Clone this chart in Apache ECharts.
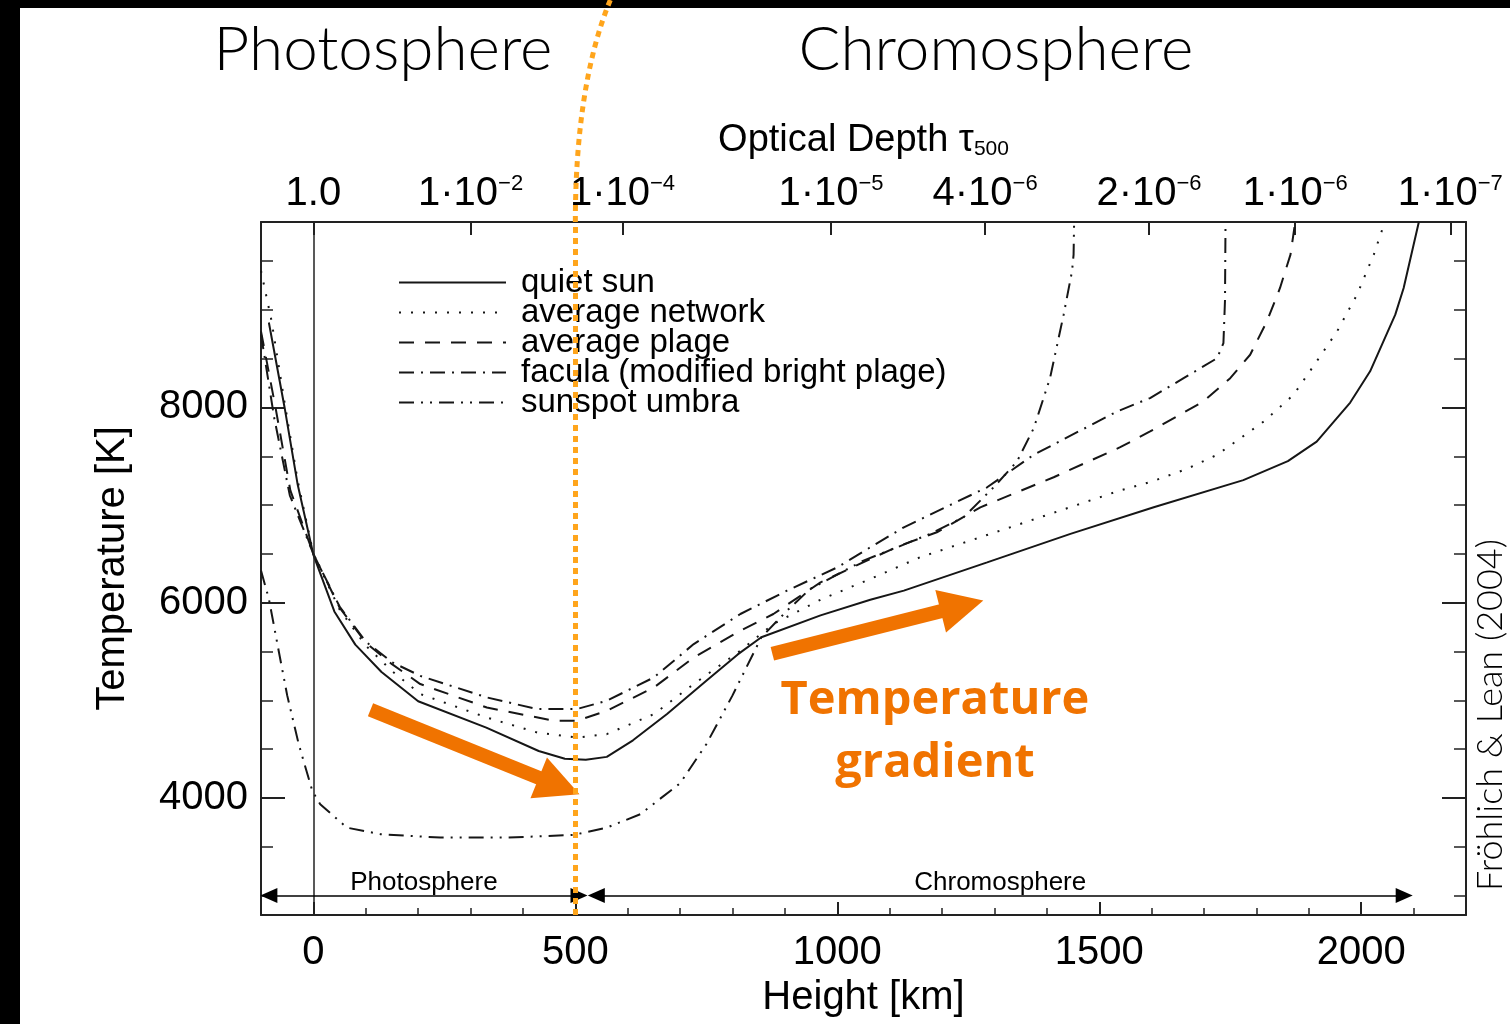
<!DOCTYPE html>
<html>
<head>
<meta charset="utf-8">
<title>Temperature vs height in the solar atmosphere</title>
<script src="https://cdn.jsdelivr.net/npm/echarts@6/dist/echarts.min.js"></script>
<style>
  html, body { margin: 0; padding: 0; background: #fff; }
  #chart { width: 1510px; height: 1024px; }
</style>
</head>
<body>
<div id="chart"></div>
<script>
// heights in km, temperatures in K
const quietH = [-85, -55, -30, 0, 40, 80, 130, 200, 330, 430, 480, 520, 560, 610, 675, 750, 810, 855, 968, 1063, 1127, 1286, 1445, 1604, 1775, 1860, 1915, 1979, 2017, 2065, 2081, 2110]
const quietT = [8870, 8000, 7210, 6490, 5910, 5570, 5290, 4990, 4720, 4480, 4400, 4390, 4420, 4590, 4860, 5200, 5470, 5645, 5870, 6030, 6123, 6413, 6705, 6977, 7255, 7450, 7650, 8050, 8370, 8951, 9224, 9900]

const networkH = [-100, -80, -55, -30, 0, 50, 100, 150, 204, 331, 427, 503, 560, 650, 726, 815, 878, 968, 1063, 1158, 1349, 1540, 1600, 1667, 1725, 1814, 1871, 1915, 1954, 1992, 2024, 2045]
const networkT = [9400, 8890, 8050, 7250, 6500, 5930, 5560, 5300, 5064, 4823, 4670, 4618, 4653, 4858, 5166, 5508, 5782, 6030, 6243, 6465, 6806, 7150, 7240, 7370, 7515, 7856, 8130, 8472, 8780, 9156, 9566, 9900]

const plageH = [-100, -72, -44, 0, 50, 100, 150, 204, 331, 459, 503, 560, 650, 726, 815, 878, 968, 1063, 1120, 1190, 1273, 1413, 1540, 1597, 1699, 1750, 1788, 1820, 1845, 1865, 1874]
const plageT = [8780, 7990, 7150, 6500, 5950, 5590, 5370, 5166, 4926, 4790, 4790, 4892, 5131, 5439, 5713, 5884, 6208, 6448, 6585, 6721, 6977, 7285, 7593, 7754, 8062, 8300, 8540, 8882, 9224, 9566, 9900]

const faculaH = [-100, -75, -45, 0, 50, 100, 150, 204, 331, 427, 503, 560, 650, 726, 815, 904, 1000, 1063, 1127, 1216, 1286, 1375, 1534, 1597, 1661, 1725, 1737, 1740, 1741]
const faculaT = [8750, 7900, 7100, 6500, 5960, 5600, 5390, 5250, 5029, 4910, 4910, 4995, 5234, 5576, 5884, 6123, 6362, 6567, 6772, 7002, 7182, 7515, 7959, 8096, 8300, 8505, 8660, 9100, 9900]

const umbraH = [-100, -85, -66, -50, -28, -2, 13, 64, 128, 242, 370, 497, 560, 624, 700, 750, 800, 855, 904, 948, 1050, 1114, 1177, 1241, 1298, 1343, 1375, 1406, 1432, 1448, 1451, 1452]
const umbraT = [6330, 6040, 5500, 5050, 4550, 4070, 3935, 3695, 3628, 3593, 3593, 3621, 3695, 3833, 4150, 4550, 5050, 5645, 5918, 6140, 6431, 6567, 6705, 6875, 7180, 7446, 7788, 8300, 8951, 9395, 9566, 9900]

// axis ticks
const heightMajor = [0, 500, 1000, 1500, 2000]
const heightMinor = [-100, 100, 200, 300, 400, 600, 700, 800, 900, 1100, 1200, 1300, 1400, 1600, 1700, 1800, 1900, 2100]
const tempMajor = [4000, 6000, 8000]
const tempMinor = [3000, 3500, 4500, 5000, 5500, 6500, 7000, 7500, 8500, 9000, 9500]
// optical depth tau_500 against height
const tauHeights = [0, 300, 590, 988, 1282, 1595, 1874, 2170]
const tauMantissa = ['1.0', '1', '1', '1', '4', '2', '1', '1']
const tauExponent = ['', '−2', '−4', '−5', '−6', '−6', '−6', '−7']

// height ranges of the two layers, drawn at T = 3000 K
const zoneNames = ['Photosphere', 'Chromosphere']
const zoneFrom = [-85, 540]
const zoneTo = [507, 2082]
const zoneTemp = 3000

// orange "temperature gradient" arrows: [start, end] in (km, K)
const gradientArrows = [
  [[109, 4903], [469, 4121]],
  [[876, 5477], [1238, 5967]]
]

const FONT = "'Liberation Sans', Arial, sans-serif"
const INK = '#161616'
const ORANGE = '#f07300'
const GOLD = '#ffa51c'

const curves = [
  { name: 'quiet sun', h: quietH, t: quietT, dash: 'solid' },
  { name: 'average network', h: networkH, t: networkT, dash: [2, 10] },
  { name: 'average plage', h: plageH, t: plageT, dash: [15, 11] },
  { name: 'facula (modified bright plage)', h: faculaH, t: faculaT, dash: [15, 7, 2, 7] },
  { name: 'sunspot umbra', h: umbraH, t: umbraT, dash: [15, 7, 2, 7, 2, 7] }
]

const chart = echarts.init(document.getElementById('chart'))

const range = { min: -100, max: 2200 }
const trange = { min: 2800, max: 9900 }
const frame = { color: '#222', width: 2 }
const plain = v => String(v)

const tauLabel = (v) => {
  const i = tauHeights.indexOf(v)
  if (i < 0) return ''
  return tauExponent[i] ? tauMantissa[i] + '·10{sup|' + tauExponent[i] + '}' : tauMantissa[i]
}

const lineSeries = curves.map(c => ({
  name: c.name,
  type: 'line',
  symbol: 'none',
  data: c.h.map((h, i) => [h, c.t[i]]),
  lineStyle: { color: INK, width: 2, type: c.dash },
  itemStyle: { color: INK },
  z: 3
}))

const minorAxis = (pos, ticks, len, extra) => ({
  type: 'value', position: pos, ...extra,
  axisLine: { show: false, onZero: false },
  axisTick: { inside: true, length: len, customValues: ticks, lineStyle: { color: '#222', width: 1.5 } },
  axisLabel: { show: false },
  splitLine: { show: false }
})

chart.setOption({
  animation: false,
  textStyle: { fontFamily: FONT },
  grid: { left: 261, top: 222, width: 1205, height: 693 },
  legend: {
    data: curves.map(c => c.name),
    orient: 'vertical',
    left: 393,
    top: 261,
    itemWidth: 107,
    itemHeight: 30,
    itemGap: -3,
    selectedMode: false,
    itemStyle: { opacity: 0, color: 'transparent', borderWidth: 0 },
    textStyle: { fontSize: 33, color: '#000', fontFamily: FONT, padding: [0, 0, 0, 10] }
  },
  xAxis: [
    {
      type: 'value', position: 'bottom', ...range,
      name: 'Height [km]', nameLocation: 'middle', nameGap: 62,
      nameTextStyle: { fontSize: 40, color: '#000', fontFamily: FONT },
      axisLine: { onZero: false, lineStyle: frame },
      axisTick: { inside: true, length: 13, customValues: heightMajor, lineStyle: frame },
      axisLabel: { customValues: heightMajor, formatter: plain, fontSize: 40, margin: 18, color: '#000', fontFamily: FONT },
      splitLine: { show: false }
    },
    minorAxis('bottom', heightMinor, 7, range),
    {
      type: 'value', position: 'top', ...range,
      name: 'Optical Depth τ{sub|500}', nameLocation: 'middle', nameGap: 62,
      nameTextStyle: { fontSize: 38, color: '#000', fontFamily: FONT, rich: { sub: { fontSize: 21, verticalAlign: 'bottom', fontFamily: FONT } } },
      axisLine: { onZero: false, lineStyle: frame },
      axisTick: { inside: true, length: 13, customValues: tauHeights, lineStyle: frame },
      axisLabel: {
        customValues: tauHeights, formatter: tauLabel, margin: 7,
        fontSize: 40, lineHeight: 42, color: '#000', fontFamily: FONT,
        rich: { sup: { fontSize: 22, lineHeight: 22, verticalAlign: 'top', color: '#000', fontFamily: FONT } }
      },
      splitLine: { show: false }
    }
  ],
  yAxis: [
    {
      type: 'value', position: 'left', ...trange,
      name: 'Temperature [K]', nameLocation: 'middle', nameGap: 128,
      nameTextStyle: { fontSize: 40, color: '#000', fontFamily: FONT },
      axisLine: { onZero: false, lineStyle: frame },
      axisTick: { inside: true, length: 24, customValues: tempMajor, lineStyle: frame },
      axisLabel: { customValues: tempMajor, formatter: plain, fontSize: 40, margin: 13, color: '#000', fontFamily: FONT },
      splitLine: { show: false }
    },
    minorAxis('left', tempMinor, 12, trange),
    {
      type: 'value', position: 'right', ...trange,
      axisLine: { onZero: false, lineStyle: frame },
      axisTick: { inside: true, length: 24, customValues: tempMajor, lineStyle: frame },
      axisLabel: { show: false },
      splitLine: { show: false }
    },
    minorAxis('right', tempMinor, 12, trange)
  ],
  series: [
    {
      name: 'tau=1', type: 'line', data: [], z: 2,
      markLine: {
        silent: true, symbol: 'none', label: { show: false },
        lineStyle: { color: '#222', width: 1.5, type: 'solid' },
        data: [{ xAxis: 0 }]
      }
    },
    ...lineSeries,
    {
      name: 'zones', type: 'line', data: [], z: 4,
      markLine: {
        silent: true,
        symbol: ['triangle', 'triangle'], symbolSize: [15, 17],
        lineStyle: { color: '#000', width: 1.5, type: 'solid' },
        label: { show: true, position: 'insideMiddleTop', distance: 0, formatter: '{b}', fontSize: 26, color: '#000', fontFamily: FONT },
        data: zoneNames.map((n, i) => [{ name: n, coord: [zoneFrom[i], zoneTemp] }, { coord: [zoneTo[i], zoneTemp] }])
      }
    },
    {
      name: 'gradient', type: 'line', data: [], z: 6,
      markLine: {
        silent: true,
        symbol: ['none', 'triangle'], symbolSize: [44, 44],
        lineStyle: { color: ORANGE, width: 14, type: 'solid', opacity: 1 },
        label: { show: false },
        data: gradientArrows.map(a => [{ coord: a[0] }, { coord: a[1] }])
      }
    },
    {
      name: 'boundary', type: 'line', data: [], z: 8,
      markLine: {
        silent: true, symbol: 'none', label: { show: false },
        lineStyle: { color: GOLD, width: 5, type: [6, 5] },
        data: [{ xAxis: 500 }]
      }
    }
  ]
})

// boundary line continues above the plot and bends up to the top edge
const bx = chart.convertToPixel({ xAxisIndex: 0 }, 500)
const gridTop = 222

chart.setOption({
  graphic: [
    { type: 'rect', shape: { x: 0, y: 0, width: 20, height: 1024 }, style: { fill: '#000' }, z: 10 },
    { type: 'rect', shape: { x: 0, y: 0, width: 1510, height: 8 }, style: { fill: '#000' }, z: 10 },
    {
      type: 'bezierCurve', z: 11,
      shape: { x1: bx, y1: gridTop, cpx1: bx, cpy1: 140, cpx2: bx + 10, cpy2: 60, x2: bx + 35, y2: 0 },
      style: { stroke: GOLD, lineWidth: 5, lineDash: [6, 5], fill: null }
    },
    {
      type: 'text', x: 383, y: 50, z: 12,
      style: { text: 'Photosphere', fontSize: 62, fontWeight: 300, fontFamily: 'Lato', fill: '#000', align: 'center', verticalAlign: 'middle' }
    },
    {
      type: 'text', x: 996, y: 50, z: 12,
      style: { text: 'Chromosphere', fontSize: 62, fontWeight: 300, fontFamily: 'Lato', fill: '#000', align: 'center', verticalAlign: 'middle' }
    },
    {
      type: 'text', x: 935, y: 701, z: 12,
      style: { text: 'Temperature', fontSize: 47, fontWeight: 'bold', fontFamily: "'Open Sans'", fill: ORANGE, align: 'center', verticalAlign: 'middle' }
    },
    {
      type: 'text', x: 935, y: 764, z: 12,
      style: { text: 'gradient', fontSize: 47, fontWeight: 'bold', fontFamily: "'Open Sans'", fill: ORANGE, align: 'center', verticalAlign: 'middle' }
    },
    {
      type: 'text', x: 1490, y: 715, rotation: Math.PI / 2, z: 12,
      style: { text: 'Fröhlich & Lean (2004)', fontSize: 36, fontWeight: 300, fontFamily: 'Lato', fill: '#000', align: 'center', verticalAlign: 'middle' }
    }
  ]
})
</script>
</body>
</html>
